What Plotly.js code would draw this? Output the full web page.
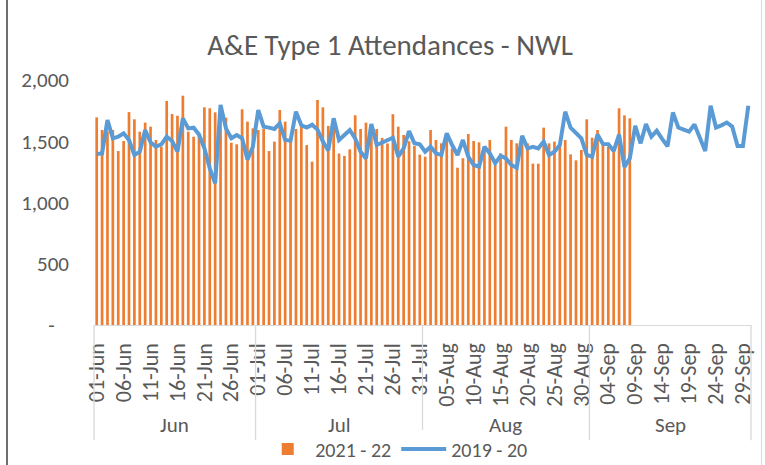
<!DOCTYPE html>
<html>
<head>
<meta charset="utf-8">
<script src="https://cdn.plot.ly/plotly-3.0.1.min.js"></script>
<style>
  html, body { margin: 0; padding: 0; background: #ffffff; }
  #wrap { position: relative; width: 765px; height: 465px; }
  #chart { width: 765px; height: 465px; }
  #frameL { position: absolute; left: 6px; top: 0; width: 2px; height: 465px; background: #6e6e6e; }
  #frameR { position: absolute; left: 761px; top: 0; width: 1px; height: 465px; background: #d9d9d9; }
</style>
</head>
<body>
<div id="wrap">
  <div id="chart"></div>
  <div id="frameL"></div>
  <div id="frameR"></div>
</div>
<script>
// ---- data ----
const monthNames = ['Jun', 'Jul', 'Aug', 'Sep'];
const monthDays = [30, 31, 31, 30];

// 2021 - 22 daily attendances (01-Jun .. 08-Sep)
const attend2122 = [
  1695, 1592, 1580, 1592, 1420, 1502, 1738, 1679, 1578, 1652,
  1619, 1510, 1455, 1829, 1722, 1708, 1872, 1578, 1537, 1550,
  1777, 1769, 1736, 1700, 1692, 1488, 1475, 1761, 1660, 1605,
  1592, 1600, 1420, 1497, 1755, 1660, 1510, 1600, 1619, 1469,
  1333, 1837, 1777, 1625, 1650, 1400, 1380, 1434, 1712, 1600,
  1652, 1640, 1600, 1527, 1482, 1721, 1619, 1551, 1500, 1462,
  1391, 1374, 1592, 1510, 1483, 1550, 1442, 1284, 1361, 1559,
  1502, 1491, 1440, 1510, 1306, 1401, 1619, 1510, 1483, 1500,
  1483, 1317, 1317, 1611, 1483, 1497, 1469, 1510, 1393, 1344,
  1429, 1679, 1529, 1592, 1483, 1455, 1429, 1769, 1711, 1687
];

// 2019 - 20 daily attendances (01-Jun .. 30-Sep)
const attend1920 = [
  1396, 1401, 1673, 1524, 1537, 1565, 1510, 1388, 1415, 1592,
  1491, 1455, 1475, 1537, 1502, 1415, 1687, 1605, 1611, 1555,
  1442, 1279, 1156, 1796, 1605, 1524, 1551, 1524, 1350, 1455,
  1755, 1619, 1611, 1600, 1646, 1510, 1505, 1741, 1630, 1612,
  1635, 1595, 1497, 1425, 1687, 1510, 1551, 1592, 1524, 1415,
  1360, 1640, 1469, 1491, 1510, 1529, 1374, 1442, 1583, 1483,
  1475, 1415, 1455, 1401, 1388, 1565, 1469, 1388, 1510, 1374,
  1306, 1292, 1455, 1401, 1320, 1382, 1360, 1306, 1284, 1545,
  1442, 1455, 1442, 1497, 1388, 1415, 1469, 1741, 1610, 1565,
  1524, 1388, 1374, 1555, 1478, 1475, 1420, 1555, 1290, 1360,
  1625, 1483, 1640, 1537, 1585, 1520, 1458, 1735, 1612, 1595,
  1578, 1637, 1525, 1420, 1790, 1612, 1630, 1653, 1620, 1462,
  1462, 1790
];

const yTickVals = [0, 500, 1000, 1500, 2000];
const yTickText = ['-\u00a0\u00a0\u00a0', '500', '1,000', '1,500', '2,000'];

// ---- categories ----
const categories = [];
monthNames.forEach((m, mi) => {
  for (let d = 1; d <= monthDays[mi]; d++) {
    categories.push((d < 10 ? '0' + d : '' + d) + '-' + m);
  }
});
const tickCats = categories.filter((c, i) => i % 5 === 0);
const nCat = categories.length;

// month group dividers and labels
const shapes = [];
const annotations = [];
let start = 0;
const divBottom = -0.47;
shapes.push({type: 'line', xref: 'paper', yref: 'paper', x0: 0, x1: 0, y0: 0, y1: divBottom,
             line: {color: '#d9d9d9', width: 1.3}});
monthNames.forEach((m, mi) => {
  const end = start + monthDays[mi];
  shapes.push({type: 'line', xref: 'paper', yref: 'paper', x0: end / nCat, x1: end / nCat,
               y0: 0, y1: divBottom, line: {color: '#d9d9d9', width: 1.3}});
  annotations.push({xref: 'paper', yref: 'paper', x: (start + end) / 2 / nCat, y: -0.41,
                    text: m, showarrow: false, xanchor: 'center', yanchor: 'middle',
                    font: {size: 21, color: '#595959'}});
  start = end;
});

const FONT = 'Calibri, Carlito, Lato, "Open Sans", sans-serif';

const traces = [
  {
    type: 'bar',
    name: '2021 - 22',
    x: categories.slice(0, attend2122.length),
    y: attend2122,
    marker: {color: '#ED7D31'},
    hoverinfo: 'skip'
  },
  {
    type: 'scatter',
    mode: 'lines',
    name: '2019 - 20',
    x: categories.slice(0, attend1920.length),
    y: attend1920,
    line: {color: '#5B9BD5', width: 4},
    hoverinfo: 'skip'
  }
];

const layout = {
  width: 765,
  height: 465,
  margin: {l: 94, r: 14, t: 80, b: 140, pad: 0, autoexpand: false},
  paper_bgcolor: '#ffffff',
  plot_bgcolor: '#ffffff',
  font: {family: FONT, color: '#595959', size: 21},
  title: {
    text: 'A&E Type 1 Attendances - NWL',
    font: {family: FONT, size: 29, color: '#595959'},
    x: 0.51, xanchor: 'center',
    y: 1 - 45 / 465, yref: 'container', yanchor: 'middle'
  },
  bargap: 0.5,
  showlegend: true,
  legend: {
    orientation: 'h',
    x: 0.46, xanchor: 'center',
    yref: 'container',
    y: 1 - 449 / 465, yanchor: 'middle',
    itemwidth: 45,
    tracegroupgap: 0,
    font: {family: FONT, size: 20, color: '#595959'},
    traceorder: 'normal'
  },
  xaxis: {
    type: 'category',
    categoryorder: 'array',
    categoryarray: categories,
    range: [-0.5, nCat - 0.5],
    tickmode: 'array',
    tickvals: tickCats,
    ticktext: tickCats,
    tickangle: -90,
    ticks: '',
    ticklabelstandoff: 8,
    showline: true,
    linecolor: '#d9d9d9',
    linewidth: 1.3,
    showgrid: false,
    zeroline: false,
    tickfont: {family: FONT, size: 22, color: '#595959'}
  },
  yaxis: {
    range: [0, 2000],
    tickmode: 'array',
    tickvals: yTickVals,
    ticktext: yTickText,
    ticks: '',
    ticklabelstandoff: 24,
    showline: false,
    showgrid: false,
    zeroline: false,
    tickfont: {family: FONT, size: 21, color: '#595959'}
  },
  shapes: shapes,
  annotations: annotations
};

Plotly.newPlot('chart', traces, layout, {displayModeBar: false, staticPlot: true});
</script>
</body>
</html>
